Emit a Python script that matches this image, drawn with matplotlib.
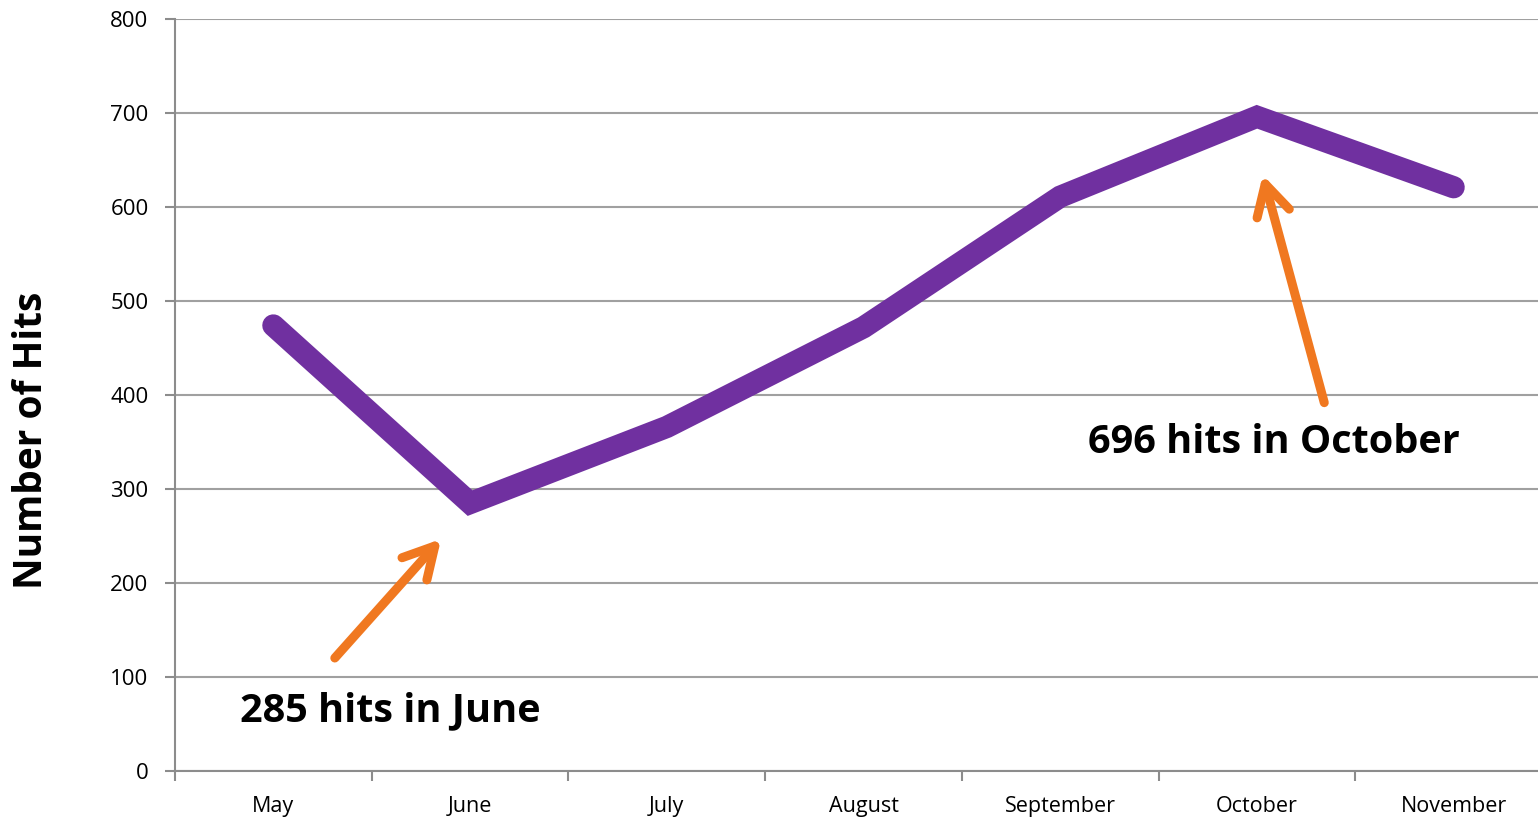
import matplotlib.pyplot as plt

months = ['May', 'June', 'July', 'August', 'September', 'October', 'November']
hits = [474, 285, 366, 472, 611, 696, 621]
yticks = [0, 100, 200, 300, 400, 500, 600, 700, 800]

plt.rcParams['font.family'] = ['Open Sans', 'DejaVu Sans']

fig = plt.figure(figsize=(15.38, 8.19), dpi=100)
# the plot area runs a little past the right edge of the picture
ax = fig.add_axes([175/1538, 1 - 771/819, 1377/1538, (771 - 19)/819])

x = list(range(len(months)))
ax.plot(x, hits, color='#7030A0', lw=16, solid_capstyle='round', solid_joinstyle='miter', zorder=3)

ax.set_xlim(-0.5, 6.5)
ax.set_ylim(0, 800)
ax.set_yticks(yticks)
ax.set_xticks(x)
ax.set_xticklabels(months)
ax.set_xticks([i - 0.5 for i in range(len(months) + 1)], minor=True)
ax.tick_params(axis='x', which='major', length=0, pad=18, labelsize=15.5)
ax.tick_params(axis='x', which='minor', length=7, width=1.5, color='#8c8c8c')
ax.tick_params(axis='y', length=7, width=1.5, color='#8c8c8c', pad=12, labelsize=16)
ax.grid(axis='y', color='#a0a0a0', lw=1.5)
for s in ['top', 'right']:
    ax.spines[s].set_visible(False)
for s in ['left', 'bottom']:
    ax.spines[s].set_color('#8c8c8c')
    ax.spines[s].set_linewidth(1.5)

fig.text(32/1538, 1 - 440/819, 'Number of Hits', rotation=90, fontsize=28, fontweight='bold',
         ha='center', va='center')

orange = '#F07820'
arrow = dict(arrowstyle='->,head_length=2.2,head_width=1.2', color=orange, lw=6.5, capstyle='round')
ax.annotate('', xy=(0.862, 249), xytext=(0.303, 118), arrowprops=arrow)
ax.annotate('', xy=(5.026, 637), xytext=(5.346, 389), arrowprops=arrow)

ax.text(-0.170, 64, '285 hits in June', fontsize=28.5, fontweight='bold', ha='left', va='center')
ax.text(4.142, 349, '696 hits in October', fontsize=28.5, fontweight='bold', ha='left', va='center')

fig.savefig('out.png', dpi=100)
